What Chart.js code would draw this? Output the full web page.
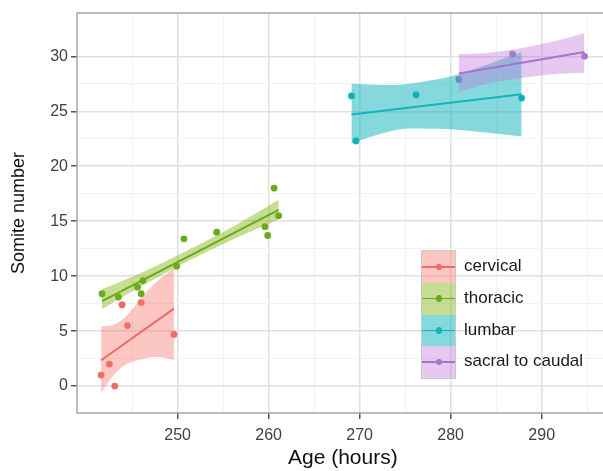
<!DOCTYPE html>
<html>
<head>
<meta charset="utf-8">
<script src="https://cdn.jsdelivr.net/npm/chart.js@4.4.1/dist/chart.umd.min.js"></script>
<style>
  html, body { margin: 0; padding: 0; background: #fff; }
  #wrap { position: relative; width: 603px; height: 471px; overflow: hidden; }
  #chart { position: absolute; left: 0; top: 0; }
  #legend { position: absolute; left: 422px; top: 251px; font-family: "Liberation Sans", Arial, sans-serif; }
  .row { position: relative; height: 31.8px; }
  .key { position: absolute; left: 0; top: 0; width: 33px; height: 31.8px; }
  .key .ln { position: absolute; left: 0; right: 0; top: 15px; height: 1.5px; }
  .key .dot { position: absolute; left: 13.5px; top: 12.5px; width: 6.5px; height: 6.5px; border-radius: 50%; }
  .lab { position: absolute; left: 42px; top: 5px; font-size: 17px; color: #1a1a1a; white-space: nowrap; }
  #keycol { position: absolute; left: -1px; top: -1px; width: 33px; height: 127px; border: 1px solid #c8c8c8; }
</style>
</head>
<body>
<div id="wrap">
  <canvas id="chart" width="612" height="471" style="width:612px;height:471px"></canvas>
  <div id="legend"></div>
</div>
<script>
// --- Dados ---
const groups = ['cervical', 'thoracic', 'lumbar', 'sacral to caudal'];

const cervicalX = [241.6, 242.5, 243.1, 243.9, 244.5, 246.0, 249.6];
const cervicalY = [1.0, 2.0, 0.0, 7.4, 5.5, 7.6, 4.7];
const thoracicX = [241.7, 243.5, 245.6, 246.0, 246.2, 249.9, 250.7, 254.3, 259.6, 259.9, 260.6, 261.1];
const thoracicY = [8.4, 8.1, 9.0, 8.4, 9.6, 10.9, 13.4, 14.0, 14.5, 13.7, 18.0, 15.5];
const lumbarX = [269.1, 269.6, 276.2, 287.8];
const lumbarY = [26.4, 22.3, 26.5, 26.2];
const sacralX = [280.9, 286.8, 294.7];
const sacralY = [27.9, 30.2, 30.0];

// faixas de confiança (geom_smooth), bordas
const cervicalBandX = [241.6, 243.0, 244.4, 245.8, 247.7, 249.6];
const cervicalBandLo = [-0.6, 1.0, 2.0, 2.4, 2.65, 2.4];
const cervicalBandHi = [5.45, 5.6, 6.4, 7.8, 9.5, 10.7];
const thoracicBandX = [241.7, 246.5, 251.6, 256.5, 261.1];
const thoracicBandLo = [7.0, 9.3, 11.55, 13.5, 15.15];
const thoracicBandHi = [8.8, 10.5, 12.55, 14.7, 16.95];
const lumbarBandX = [269.1, 274.0, 277.7, 281.0, 287.8];
const lumbarBandLo = [22.1, 23.3, 23.4, 23.3, 22.7];
const lumbarBandHi = [27.5, 27.4, 27.8, 28.4, 30.4];
const sacralBandX = [280.9, 284.0, 287.5, 291.0, 294.7];
const sacralBandLo = [26.75, 27.5, 28.0, 28.35, 28.5];
const sacralBandHi = [30.2, 30.3, 30.7, 31.3, 32.1];

const xTicks = [250, 260, 270, 280, 290];
const yTicks = [0, 5, 10, 15, 20, 25, 30];

// --- Estilo ---
const colors = ['#ee6a62', '#6aaa1e', '#12b4ba', '#a674cc'];
const bandColors = ['rgba(248,118,109,0.42)', 'rgba(124,174,0,0.42)', 'rgba(0,176,182,0.48)', 'rgba(190,120,220,0.4)'];

const pointsX = [cervicalX, thoracicX, lumbarX, sacralX];
const pointsY = [cervicalY, thoracicY, lumbarY, sacralY];
const bandsX = [cervicalBandX, thoracicBandX, lumbarBandX, sacralBandX];
const bandsLo = [cervicalBandLo, thoracicBandLo, lumbarBandLo, sacralBandLo];
const bandsHi = [cervicalBandHi, thoracicBandHi, lumbarBandHi, sacralBandHi];

const zip = (xs, ys) => xs.map((x, i) => ({ x: x, y: ys[i] }));

// reta de mínimos quadrados (lm) de cada grupo
function fitLine(xs, ys) {
    const n = xs.length;
    const mx = xs.reduce((a, b) => a + b, 0) / n;
    const my = ys.reduce((a, b) => a + b, 0) / n;
    let sxy = 0, sxx = 0;
    xs.forEach((x, i) => { sxy += (x - mx) * (ys[i] - my); sxx += (x - mx) * (x - mx); });
    const b = sxy / sxx;
    const x0 = Math.min(...xs), x1 = Math.max(...xs);
    return [{ x: x0, y: my + b * (x0 - mx) }, { x: x1, y: my + b * (x1 - mx) }];
}

const datasets = [];
let layer = 100;
// pontos primeiro (embaixo)
groups.forEach((g, i) => {
    datasets.push({
        type: 'scatter', label: g, data: zip(pointsX[i], pointsY[i]),
        backgroundColor: colors[i], borderColor: colors[i], pointRadius: 3.4, pointHoverRadius: 3.4,
        borderWidth: 0, order: layer--
    });
});
// faixa + reta por grupo
groups.forEach((g, i) => {
    const loIndex = datasets.length + 1;
    datasets.push({
        type: 'line', label: g + ' hi', data: zip(bandsX[i], bandsHi[i]),
        borderWidth: 0, borderColor: 'transparent', pointRadius: 0, tension: 0.35,
        backgroundColor: bandColors[i], fill: { target: loIndex }, order: layer--
    });
    datasets.push({
        type: 'line', label: g + ' lo', data: zip(bandsX[i], bandsLo[i]),
        borderWidth: 0, borderColor: 'transparent', pointRadius: 0, tension: 0.35,
        fill: false, order: layer--
    });
    datasets.push({
        type: 'line', label: g + ' fit', data: fitLine(pointsX[i], pointsY[i]),
        borderColor: colors[i], borderWidth: 2, pointRadius: 0, fill: false, order: layer--
    });
});

const minorX = xTicks.map(v => v - 5).concat([xTicks[xTicks.length - 1] + 5]);
const minorY = yTicks.slice(1).map(v => v - 2.5);

function setTicks(majors, minors) {
    return scale => {
        scale.ticks = majors.concat(minors).sort((a, b) => a - b).map(v => ({ value: v }));
    };
}
const isMajor = (majors, ctx) => ctx.tick && majors.includes(ctx.tick.value);

const panelBorder = {
    id: 'panelBorder',
    afterDatasetsDraw(chart) {
        const a = chart.chartArea, c = chart.ctx;
        c.save();
        c.strokeStyle = '#a6a6a6';
        c.lineWidth = 1.5;
        c.strokeRect(a.left, a.top, a.right - a.left, a.bottom - a.top);
        c.restore();
    }
};

const font = '"Liberation Sans", Arial, sans-serif';

new Chart(document.getElementById('chart').getContext('2d'), {
    data: { datasets: datasets },
    options: {
        responsive: false,
        animation: false,
        layout: { padding: { top: 13, right: 3, left: 0, bottom: 0 } },
        plugins: { legend: { display: false }, tooltip: { enabled: false } },
        scales: {
            x: {
                type: 'linear', min: 238.95, max: 297.35,
                afterBuildTicks: setTicks(xTicks, minorX),
                afterFit: s => { s.height = 58; },
                border: { display: false },
                grid: {
                    color: ctx => isMajor(xTicks, ctx) ? '#e0e0e0' : '#f2f2f2',
                    lineWidth: ctx => isMajor(xTicks, ctx) ? 1.5 : 1,
                    tickColor: ctx => isMajor(xTicks, ctx) ? '#555' : 'rgba(0,0,0,0)',
                    tickLength: 6, tickWidth: 1.5
                },
                ticks: {
                    autoSkip: false, maxRotation: 0, padding: 7, color: '#404040',
                    font: { family: font, size: 16 },
                    callback: v => xTicks.includes(v) ? String(v) : ''
                },
                title: { display: true, text: 'Age (hours)', color: '#111', font: { family: font, size: 21 }, padding: { top: 0, bottom: 0 } }
            },
            y: {
                type: 'linear', min: -2.45, max: 33.94,
                afterBuildTicks: setTicks(yTicks, minorY),
                afterFit: s => { s.width = 77; },
                border: { display: false },
                grid: {
                    color: ctx => isMajor(yTicks, ctx) ? '#e0e0e0' : '#f2f2f2',
                    lineWidth: ctx => isMajor(yTicks, ctx) ? 1.5 : 1,
                    tickColor: ctx => isMajor(yTicks, ctx) ? '#555' : 'rgba(0,0,0,0)',
                    tickLength: 6, tickWidth: 1.5
                },
                ticks: {
                    autoSkip: false, padding: 3, color: '#404040',
                    font: { family: font, size: 16 },
                    callback: v => yTicks.includes(v) ? String(v) : ''
                },
                title: { display: true, text: 'Somite number', color: '#111', font: { family: font, size: 18 }, padding: { top: 8, bottom: 0 } }
            }
        }
    },
    plugins: [panelBorder]
});

// --- Legenda (HTML) ---
const legend = document.getElementById('legend');
legend.innerHTML = '<div id="keycol"></div>';
groups.forEach((g, i) => {
    const row = document.createElement('div');
    row.className = 'row';
    row.innerHTML = `
        <div class="key" style="background:${bandColors[i]}">
            <div class="ln" style="background:${colors[i]}"></div>
            <div class="dot" style="background:${colors[i]}"></div>
        </div>
        <span class="lab">${g}</span>`;
    legend.appendChild(row);
});
</script>
</body>
</html>
